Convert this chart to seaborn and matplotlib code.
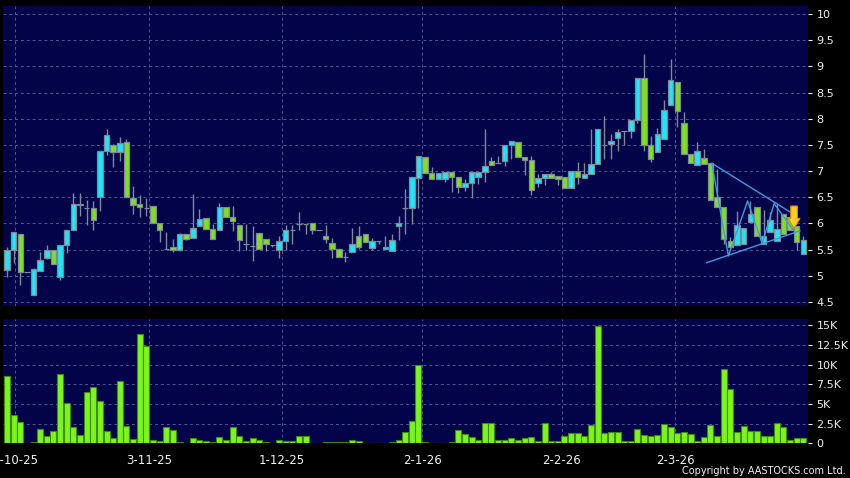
import matplotlib
matplotlib.use("Agg")
import matplotlib.pyplot as plt
import numpy as np
import pandas as pd
import seaborn as sns

# ---------------- data ----------------
opens = [5.12, 5.50, 5.79, 5.08, 4.64, 5.10, 5.34, 5.50, 4.98, 5.58,
         5.88, 6.36, 6.30, 6.30, 6.50, 7.39, 7.50, 7.37, 7.55, 6.49,
         6.38, 6.29, 6.34, 6.01, 5.52, 5.56, 5.49, 5.79, 5.72, 5.95,
         6.11, 5.90, 5.88, 6.32, 6.13, 5.97, 5.60, 5.57, 5.81, 5.71,
         5.59, 5.50, 5.67, 5.88, 5.99, 5.99, 6.01, 5.88, 5.77, 5.63,
         5.52, 5.36, 5.45, 5.77, 5.79, 5.54, 5.67, 5.52, 5.48, 5.95,
         6.29, 6.29, 6.86, 7.27, 6.96, 6.85, 6.85, 6.99, 6.89, 6.70,
         6.77, 6.88, 6.99, 7.20, 7.15, 7.19, 7.49, 7.56, 7.26, 7.21,
         6.78, 6.86, 6.94, 6.90, 6.88, 6.67, 7.01, 6.87, 6.94, 7.13,
         7.50, 7.51, 7.64, 7.76, 7.76, 7.98, 8.78, 7.49, 7.37, 7.61,
         8.27, 8.71, 7.91, 7.32, 7.12, 7.25, 7.15, 6.50, 6.31, 5.66,
         5.58, 5.61, 6.03, 6.32, 5.60, 5.84, 5.66, 6.18, 6.12, 5.96,
         5.41]
highs = [5.55, 5.84, 5.80, 5.08, 5.15, 5.45, 5.58, 5.50, 5.58, 5.88,
         6.58, 6.58, 6.44, 6.42, 7.38, 7.81, 7.52, 7.66, 7.62, 6.72,
         6.54, 6.48, 6.34, 6.01, 5.84, 5.71, 5.82, 5.79, 6.56, 6.27,
         6.11, 5.99, 6.40, 6.32, 6.34, 5.97, 5.99, 5.96, 5.81, 5.71,
         5.59, 5.76, 5.98, 5.98, 6.22, 5.99, 6.01, 5.88, 5.98, 5.72,
         5.52, 5.45, 5.92, 5.95, 5.79, 5.72, 5.67, 5.76, 5.79, 6.14,
         6.65, 6.88, 7.29, 7.27, 7.07, 6.97, 6.99, 6.99, 6.89, 6.85,
         6.99, 6.99, 7.81, 7.26, 7.29, 7.49, 7.58, 7.56, 7.27, 7.28,
         6.94, 6.94, 6.99, 6.90, 6.88, 7.01, 7.17, 7.16, 7.80, 7.80,
         8.06, 7.70, 7.80, 7.76, 7.97, 8.78, 9.24, 7.67, 7.82, 8.35,
         9.15, 8.71, 8.13, 7.32, 7.55, 7.42, 7.15, 7.04, 6.31, 5.75,
         6.24, 5.92, 6.43, 6.32, 6.25, 6.22, 6.37, 6.18, 6.12, 5.96,
         5.77]
lows = [4.97, 5.24, 4.83, 5.08, 4.64, 5.10, 5.33, 5.23, 4.92, 5.44,
        5.88, 6.14, 5.98, 5.88, 6.24, 7.30, 7.07, 7.20, 6.50, 6.19,
        6.13, 6.14, 6.00, 5.64, 5.52, 5.45, 5.48, 5.69, 5.72, 5.95,
        5.90, 5.71, 5.88, 6.12, 5.86, 5.47, 5.49, 5.28, 5.52, 5.47,
        5.55, 5.34, 5.50, 5.61, 5.87, 5.79, 5.80, 5.88, 5.63, 5.35,
        5.36, 5.26, 5.45, 5.52, 5.64, 5.50, 5.61, 5.52, 5.48, 5.69,
        5.79, 5.99, 6.29, 6.96, 6.85, 6.85, 6.79, 6.60, 6.59, 6.62,
        6.49, 6.75, 6.80, 7.12, 7.15, 7.09, 7.23, 7.26, 6.93, 6.54,
        6.69, 6.74, 6.87, 6.74, 6.67, 6.67, 6.76, 6.87, 6.94, 7.13,
        7.24, 7.24, 7.38, 7.50, 7.64, 7.91, 7.38, 7.18, 7.37, 7.61,
        8.27, 7.84, 7.32, 7.15, 7.12, 7.13, 6.44, 6.31, 5.61, 5.55,
        5.58, 5.61, 6.03, 5.77, 5.60, 5.84, 5.66, 5.80, 5.87, 5.50,
        5.41]
closes = [5.50, 5.83, 5.08, 5.08, 5.13, 5.31, 5.50, 5.23, 5.58, 5.88,
          6.38, 6.38, 6.29, 6.06, 7.38, 7.69, 7.37, 7.54, 6.50, 6.35,
          6.31, 6.29, 6.00, 5.88, 5.52, 5.49, 5.79, 5.70, 5.92, 6.09,
          5.90, 5.71, 6.32, 6.12, 6.05, 5.68, 5.60, 5.57, 5.52, 5.60,
          5.59, 5.67, 5.88, 5.88, 5.99, 5.99, 5.88, 5.88, 5.71, 5.52,
          5.36, 5.36, 5.60, 5.56, 5.64, 5.67, 5.67, 5.56, 5.68, 6.00,
          6.29, 6.88, 7.29, 6.96, 6.85, 6.97, 6.99, 6.89, 6.70, 6.78,
          6.99, 6.99, 7.10, 7.12, 7.15, 7.49, 7.58, 7.26, 7.21, 6.63,
          6.87, 6.94, 6.87, 6.84, 6.67, 7.01, 6.89, 6.94, 7.13, 7.80,
          7.50, 7.58, 7.74, 7.76, 7.97, 8.78, 7.50, 7.24, 7.71, 8.17,
          8.74, 8.14, 7.32, 7.16, 7.39, 7.14, 6.44, 6.31, 5.71, 5.56,
          5.98, 5.92, 6.18, 5.77, 5.76, 6.06, 5.90, 5.80, 5.87, 5.65,
          5.68]
volumes_k = [8.53, 3.59, 2.75, 0.00, 0.13, 1.77, 0.93, 1.60, 8.75, 5.07,
             2.07, 1.06, 6.55, 7.10, 5.40, 1.60, 0.72, 7.90, 2.20, 0.55,
             13.86, 12.34, 0.42, 0.30, 2.07, 1.69, 0.13, 0.00, 0.68, 0.42,
             0.30, 0.17, 0.85, 0.42, 2.03, 0.89, 0.25, 0.63, 0.38, 0.17,
             0.04, 0.42, 0.34, 0.30, 0.89, 0.89, 0.08, 0.00, 0.13, 0.17,
             0.13, 0.13, 0.38, 0.34, 0.00, 0.00, 0.00, 0.04, 0.17, 0.42,
             1.48, 2.83, 9.93, 0.13, 0.08, 0.00, 0.00, 0.13, 1.69, 1.14,
             0.85, 0.42, 2.54, 2.58, 0.38, 0.46, 0.72, 0.46, 0.63, 0.80,
             0.30, 2.58, 0.34, 0.34, 0.93, 1.27, 1.27, 0.97, 2.28, 14.90,
             1.27, 1.39, 1.39, 0.30, 0.30, 1.86, 1.10, 0.97, 1.06, 2.41,
             2.07, 1.31, 1.39, 1.23, 0.34, 0.85, 2.32, 0.97, 9.42, 6.84,
             1.39, 2.24, 1.56, 1.56, 0.93, 0.89, 2.54, 2.11, 0.42, 0.63,
             0.63]

date_tick_pos = [1.25, 21.4, 41.45, 62.6, 83.6, 100.65]
date_tick_labels = ["2-10-25", "3-11-25", "1-12-25", "2-1-26", "2-2-26", "2-3-26"]
price_ticks = [4.5, 5, 5.5, 6, 6.5, 7, 7.5, 8, 8.5, 9, 9.5, 10]
price_tick_labels = ["4.5", "5", "5.5", "6", "6.5", "7", "7.5", "8", "8.5", "9", "9.5", "10"]
vol_ticks = [0, 2.5, 5, 7.5, 10, 12.5, 15]
vol_tick_labels = ["0", "2.5K", "5K", "7.5K", "10K", "12.5K", "15K"]

# triangle pattern annotation (bar index, price)
zigzag_x = [106.2, 108.7, 111.6, 113.8, 115.6, 118.5]
zigzag_y = [7.15, 5.38, 6.43, 5.62, 6.38, 5.87]
upper_line_x = [106.2, 118.75]
upper_line_y = [7.15, 6.16]
lower_line_x = [105.4, 119.5]
lower_line_y = [5.25, 5.86]
arrow_x = 118.6
arrow_from = 6.333
arrow_to = 5.907

# ---------------- style ----------------
sns.set_style("dark")
plt.rcParams['font.family'] = ['DejaVu Sans']

NAVY = "#03034a"
UP = "#22e4f2"
DOWN = "#80e020"
EDGE = "#7d8898"
GRID = "#4c5896"
VOL = "#7cf51c"
VOL_EDGE = "#3f8a0a"
TXT = "#f0f0f0"

fig = plt.figure(figsize=(8.5, 4.78), dpi=100, facecolor="black")
W, H = 850.0, 478.0
left = 3.3 / W
width = (808 - 3.3) / W
axp = fig.add_axes([left, 1 - 306 / H, width, 300 / H])
axv = fig.add_axes([left, 1 - 443.3 / H, width, 124 / H])

df = pd.DataFrame({"i": np.arange(len(opens)), "o": opens, "h": highs,
                   "l": lows, "c": closes, "v": volumes_k})

for ax in (axp, axv):
    ax.set_facecolor(NAVY)
    for s in ax.spines.values():
        s.set_visible(False)
    ax.grid(True, color=GRID, linestyle=(0, (3, 3)), linewidth=0.7)
    ax.set_axisbelow(True)
    ax.set_xlim(-0.56, 120.7)

# ---- candles ----
up = df["c"] >= df["o"]
body_bottom = np.minimum(df["o"], df["c"])
body_h = np.abs(df["c"] - df["o"])
axp.vlines(df["i"], df["l"], df["h"], color=EDGE, linewidth=1.0, zorder=2)
colors = [UP if u else DOWN for u in up]
axp.bar(df["i"], body_h, bottom=body_bottom, width=0.82, color=colors,
        edgecolor=EDGE, linewidth=0.9, zorder=3)

# pattern lines
axp.plot(upper_line_x, upper_line_y, color="#3d9be0", linewidth=1.0, zorder=4)
axp.plot(lower_line_x, lower_line_y, color="#3d9be0", linewidth=1.0, zorder=4)
axp.plot(zigzag_x, zigzag_y, color="#3d9be0", linewidth=1.0, zorder=4)
axp.arrow(arrow_x, arrow_from, 0, arrow_to - arrow_from, width=1.0,
          head_width=1.8, head_length=0.19, length_includes_head=True,
          fc="#ffcf24", ec="#e08a00", linewidth=0.8, zorder=5)

axp.set_ylim(4.424, 10.153)
axp.set_yticks(price_ticks)
axp.set_yticklabels(price_tick_labels)
axp.set_xticks(date_tick_pos)
axp.tick_params(axis="x", length=0, labelbottom=False)
axp.yaxis.tick_right()
axp.tick_params(axis="y", colors=TXT, labelsize=8, length=3, width=0.8, pad=3,
                labelcolor=TXT)

# ---- volume ----
sns.barplot(data=df, x="i", y="v", native_scale=True, color=VOL, saturation=1,
            width=0.9, edgecolor=VOL_EDGE, linewidth=0.8, ax=axv, zorder=3)
axv.set_xlim(-0.56, 120.7)
axv.set_ylim(0, 15.76)
axv.set_yticks(vol_ticks)
axv.set_yticklabels(vol_tick_labels)
axv.yaxis.tick_right()
axv.tick_params(axis="y", colors=TXT, labelsize=8, length=3, width=0.8, pad=3,
                labelcolor=TXT)
axv.set_xticks(date_tick_pos)
axv.set_xticklabels(date_tick_labels)
axv.tick_params(axis="x", colors=TXT, labelsize=8.5, length=4, width=0.8, pad=4,
                labelcolor=TXT)
axv.set_xlabel("")
axv.set_ylabel("")
axv.grid(True, color=GRID, linestyle=(0, (3, 3)), linewidth=0.7)

fig.text(846 / W, 1 - 471.5 / H, "Copyright by AASTOCKS.com Ltd.", color=TXT,
         fontsize=7, ha="right", va="center")

fig.savefig("out.png", dpi=100, facecolor="black")
